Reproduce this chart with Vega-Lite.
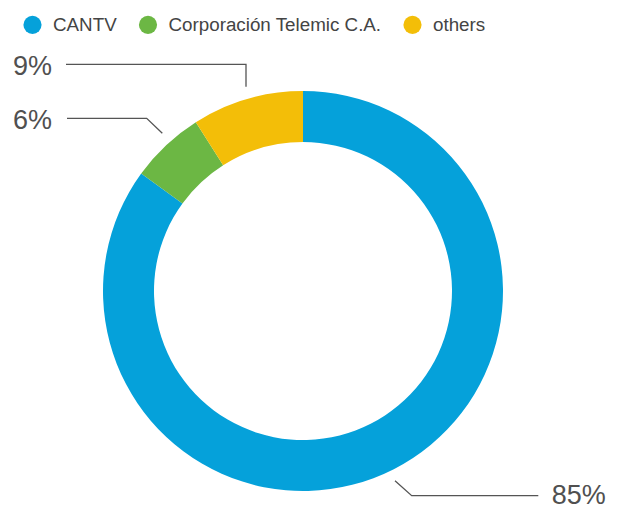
{
  "$schema": "https://vega.github.io/schema/vega-lite/v6.json",
  "width": 400,
  "height": 400,
  "autosize": {"type": "none"},
  "padding": {"left": 103, "top": 91, "right": 115, "bottom": 17},
  "background": "white",
  "config": {"view": {"stroke": null}},
  "datasets": {
    "slices": [
      {"company": "CANTV", "share": 85},
      {"company": "Corporación Telemic C.A.", "share": 6},
      {"company": "others", "share": 9}
    ],
    "leaders": [
      {"slice": "others", "step": 1, "x": -1.185, "y": 1.1335},
      {"slice": "others", "step": 2, "x": -0.285, "y": 1.1335},
      {"slice": "others", "step": 3, "x": -0.285, "y": 1.0215},
      {"slice": "telemic", "step": 1, "x": -1.18, "y": 0.8635},
      {"slice": "telemic", "step": 2, "x": -0.7815, "y": 0.8635},
      {"slice": "telemic", "step": 3, "x": -0.7035, "y": 0.7885},
      {"slice": "cantv", "step": 1, "x": 0.46, "y": -0.9485},
      {"slice": "cantv", "step": 2, "x": 0.5435, "y": -1.0235},
      {"slice": "cantv", "step": 3, "x": 1.1765, "y": -1.0235}
    ],
    "labels": [
      {"label": "9%", "x": -1.45, "y": 1.1215},
      {"label": "6%", "x": -1.45, "y": 0.851},
      {"label": "85%", "x": 1.2435, "y": -1.024}
    ]
  },
  "layer": [
    {
      "data": {"name": "slices"},
      "mark": {"type": "arc", "outerRadius": 200, "innerRadius": 149},
      "encoding": {
        "theta": {"field": "share", "type": "quantitative", "stack": true},
        "color": {
          "field": "company",
          "type": "nominal",
          "scale": {
            "domain": ["CANTV", "Corporación Telemic C.A.", "others"],
            "range": ["#05A1DA", "#6CB744", "#F3BE08"]
          },
          "legend": {
            "title": null,
            "orient": "none",
            "direction": "horizontal",
            "legendX": -80,
            "legendY": -76,
            "padding": 0,
            "symbolType": "circle",
            "symbolSize": 330,
            "symbolStrokeWidth": 0,
            "symbolOpacity": 1,
            "labelFont": "Liberation Sans",
            "labelFontSize": 18.8,
            "labelColor": "#444444",
            "labelOffset": 11,
            "labelLimit": 400,
            "columnPadding": 21.5
          }
        }
      }
    },
    {
      "data": {"name": "leaders"},
      "mark": {"type": "line", "color": "#555555", "strokeWidth": 1.3},
      "encoding": {
        "x": {"field": "x", "type": "quantitative", "scale": {"domain": [-1, 1], "nice": false, "zero": false}, "axis": null},
        "y": {"field": "y", "type": "quantitative", "scale": {"domain": [-1, 1], "nice": false, "zero": false}, "axis": null},
        "detail": {"field": "slice", "type": "nominal"},
        "order": {"field": "step", "type": "quantitative"}
      }
    },
    {
      "data": {"name": "labels"},
      "mark": {"type": "text", "align": "left", "baseline": "middle", "font": "Liberation Sans", "fontSize": 27, "color": "#505050"},
      "encoding": {
        "x": {"field": "x", "type": "quantitative"},
        "y": {"field": "y", "type": "quantitative"},
        "text": {"field": "label", "type": "nominal"}
      }
    }
  ]
}
